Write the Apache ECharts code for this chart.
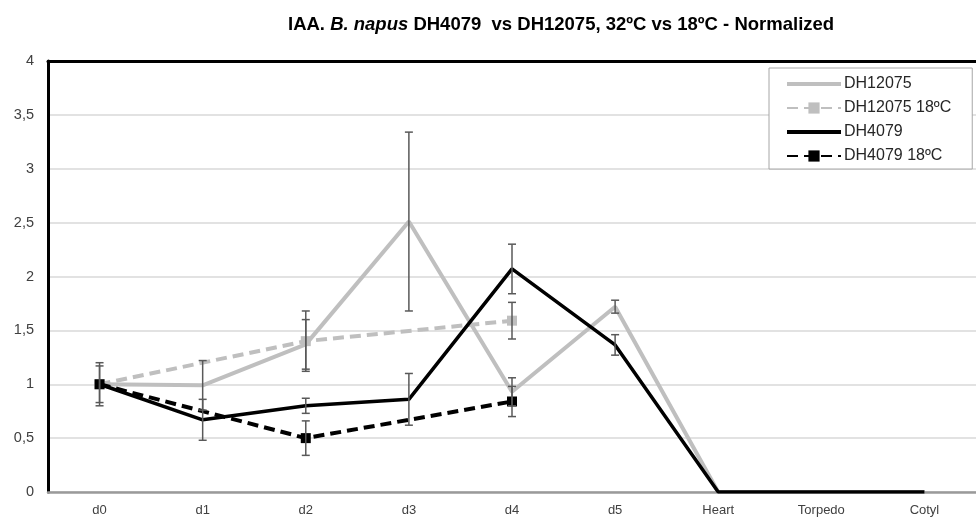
<!DOCTYPE html>
<html>
<head>
<meta charset="utf-8">
<script src="https://cdn.jsdelivr.net/npm/echarts@6/dist/echarts.min.js"></script>
<style>
  html, body { margin: 0; padding: 0; background: #fff; }
  #chart { width: 976px; height: 527px; }
</style>
</head>
<body>
<div id="chart"></div>
<script>
// Stages of development
const categories = ['d0', 'd1', 'd2', 'd3', 'd4', 'd5', 'Heart', 'Torpedo', 'Cotyl'];

// Normalized IAA levels (null = not measured)
const dh12075     = [1, 0.99, 1.37, 2.51, 0.93, 1.72, 0, 0, 0];
const dh12075Err  = [0.20, 0.23, 0.23, 0.83, 0.13, 0.06, null, null, null];
const dh12075C    = [1, null, 1.40, null, 1.59, null, null, null, null];
const dh12075CErr = [null, null, 0.28, null, 0.17, null, null, null, null];
const dh4079      = [1, 0.67, 0.80, 0.86, 2.07, 1.365, 0, 0, 0];
const dh4079Err   = [0.17, 0.19, 0.07, 0.24, 0.23, 0.095, null, null, null];
const dh4079C     = [1, null, 0.50, null, 0.84, null, null, null, null];
const dh4079CErr  = [null, null, 0.16, null, 0.14, null, null, null, null];

const yTicks = [0, 0.5, 1, 1.5, 2, 2.5, 3, 3.5, 4];

const GRAY = '#BFBFBF';
const BLACK = '#000000';
const FONT = 'Liberation Sans';

// Plain bar for the solid-line legend entries (tiny corner points keep the 54x14 box)
const SOLID_ICON = 'path://M0,0L0.01,0Z M0,14L0.01,14Z M0,5L54,5L54,9L0,9Z';

function errRows(vals, errs) {
  const rows = [];
  vals.forEach((v, i) => {
    if (v != null && errs[i] != null) rows.push([i, v - errs[i], v + errs[i]]);
  });
  return rows;
}

const errData = [].concat(
  errRows(dh12075, dh12075Err),
  errRows(dh12075C, dh12075CErr),
  errRows(dh4079, dh4079Err),
  errRows(dh4079C, dh4079CErr)
);

function renderErr(params, api) {
  const x = api.value(0);
  const lo = api.coord([x, api.value(1)]);
  const hi = api.coord([x, api.value(2)]);
  const w = 4;
  const style = { stroke: '#595959', lineWidth: 1.5 };
  return {
    type: 'group',
    children: [
      { type: 'line', shape: { x1: lo[0], y1: lo[1], x2: hi[0], y2: hi[1] }, style },
      { type: 'line', shape: { x1: hi[0] - w, y1: hi[1], x2: hi[0] + w, y2: hi[1] }, style },
      { type: 'line', shape: { x1: lo[0] - w, y1: lo[1], x2: lo[0] + w, y2: lo[1] }, style }
    ]
  };
}

const chart = echarts.init(document.getElementById('chart'), null, { renderer: 'canvas' });

chart.setOption({
  animation: false,
  backgroundColor: '#fff',
  title: {
    text: '{b|IAA. }{i|B. napus}{b| DH4079  vs DH12075, 32ºC vs 18ºC - Normalized}',
    left: 283,
    top: 10,
    textStyle: {
      rich: {
        b: { fontFamily: FONT, fontWeight: 'bold', fontSize: 18.5, color: '#000' },
        i: { fontFamily: FONT, fontWeight: 'bold', fontStyle: 'italic', fontSize: 18.5, color: '#000' }
      }
    }
  },
  legend: {
    orient: 'vertical',
    left: 769,
    top: 68,
    padding: [8, 21, 5, 17],
    itemWidth: 54,
    itemHeight: 14,
    itemGap: 8,
    backgroundColor: '#fff',
    borderColor: '#A6A6A6',
    borderWidth: 1,
    borderRadius: 0,
    textStyle: { fontFamily: FONT, fontSize: 16, color: '#262626', padding: [0, 0, 0, -2] },
    data: [
      { name: 'DH12075', icon: SOLID_ICON },
      { name: 'DH12075 18ºC' },
      { name: 'DH4079', icon: SOLID_ICON },
      { name: 'DH4079 18ºC' }
    ]
  },
  grid: { left: 48, right: -6, top: 61, bottom: 35 },
  xAxis: [
    {
      type: 'category',
      data: categories,
      position: 'bottom',
      boundaryGap: true,
      axisLine: { show: true, lineStyle: { color: '#9A9A9A', width: 2.5 } },
      axisTick: { show: false },
      axisLabel: { fontFamily: FONT, fontSize: 13, color: '#404040', margin: 12 },
      splitLine: { show: false }
    },
    {
      type: 'category',
      data: categories,
      position: 'top',
      axisLine: { show: true, lineStyle: { color: '#000', width: 3 } },
      axisTick: { show: false },
      axisLabel: { show: false },
      splitLine: { show: false }
    }
  ],
  yAxis: {
    type: 'value',
    min: 0,
    max: 4,
    interval: 0.5,
    axisLine: { show: true, lineStyle: { color: '#000', width: 3 } },
    axisTick: { show: false },
    axisLabel: {
      fontFamily: FONT,
      fontSize: 14.5,
      color: '#404040',
      margin: 14,
      formatter: v => (yTicks.includes(v) ? String(v).replace('.', ',') : '')
    },
    splitLine: { show: true, lineStyle: { color: '#D9D9D9', width: 1.5 } }
  },
  series: [
    {
      name: 'DH12075',
      type: 'line',
      data: dh12075,
      symbol: 'none',
      lineStyle: { color: GRAY, width: 4 },
      itemStyle: { color: GRAY },
      z: 2
    },
    {
      name: 'DH12075 18ºC',
      type: 'line',
      data: dh12075C,
      connectNulls: true,
      symbol: 'rect',
      symbolSize: 10,
      lineStyle: { color: GRAY, width: 4, type: [11, 6] },
      itemStyle: { color: GRAY },
      z: 3
    },
    {
      name: 'DH4079',
      type: 'line',
      data: dh4079,
      symbol: 'none',
      lineStyle: { color: BLACK, width: 3.5 },
      itemStyle: { color: BLACK },
      z: 4
    },
    {
      name: 'DH4079 18ºC',
      type: 'line',
      data: dh4079C,
      connectNulls: true,
      symbol: 'rect',
      symbolSize: 10,
      lineStyle: { color: BLACK, width: 4, type: [11, 6] },
      itemStyle: { color: BLACK },
      z: 5
    },
    {
      name: 'errors',
      type: 'custom',
      renderItem: renderErr,
      data: errData,
      encode: { x: 0, y: [1, 2] },
      z: 6,
      silent: true
    }
  ]
});
</script>
</body>
</html>
